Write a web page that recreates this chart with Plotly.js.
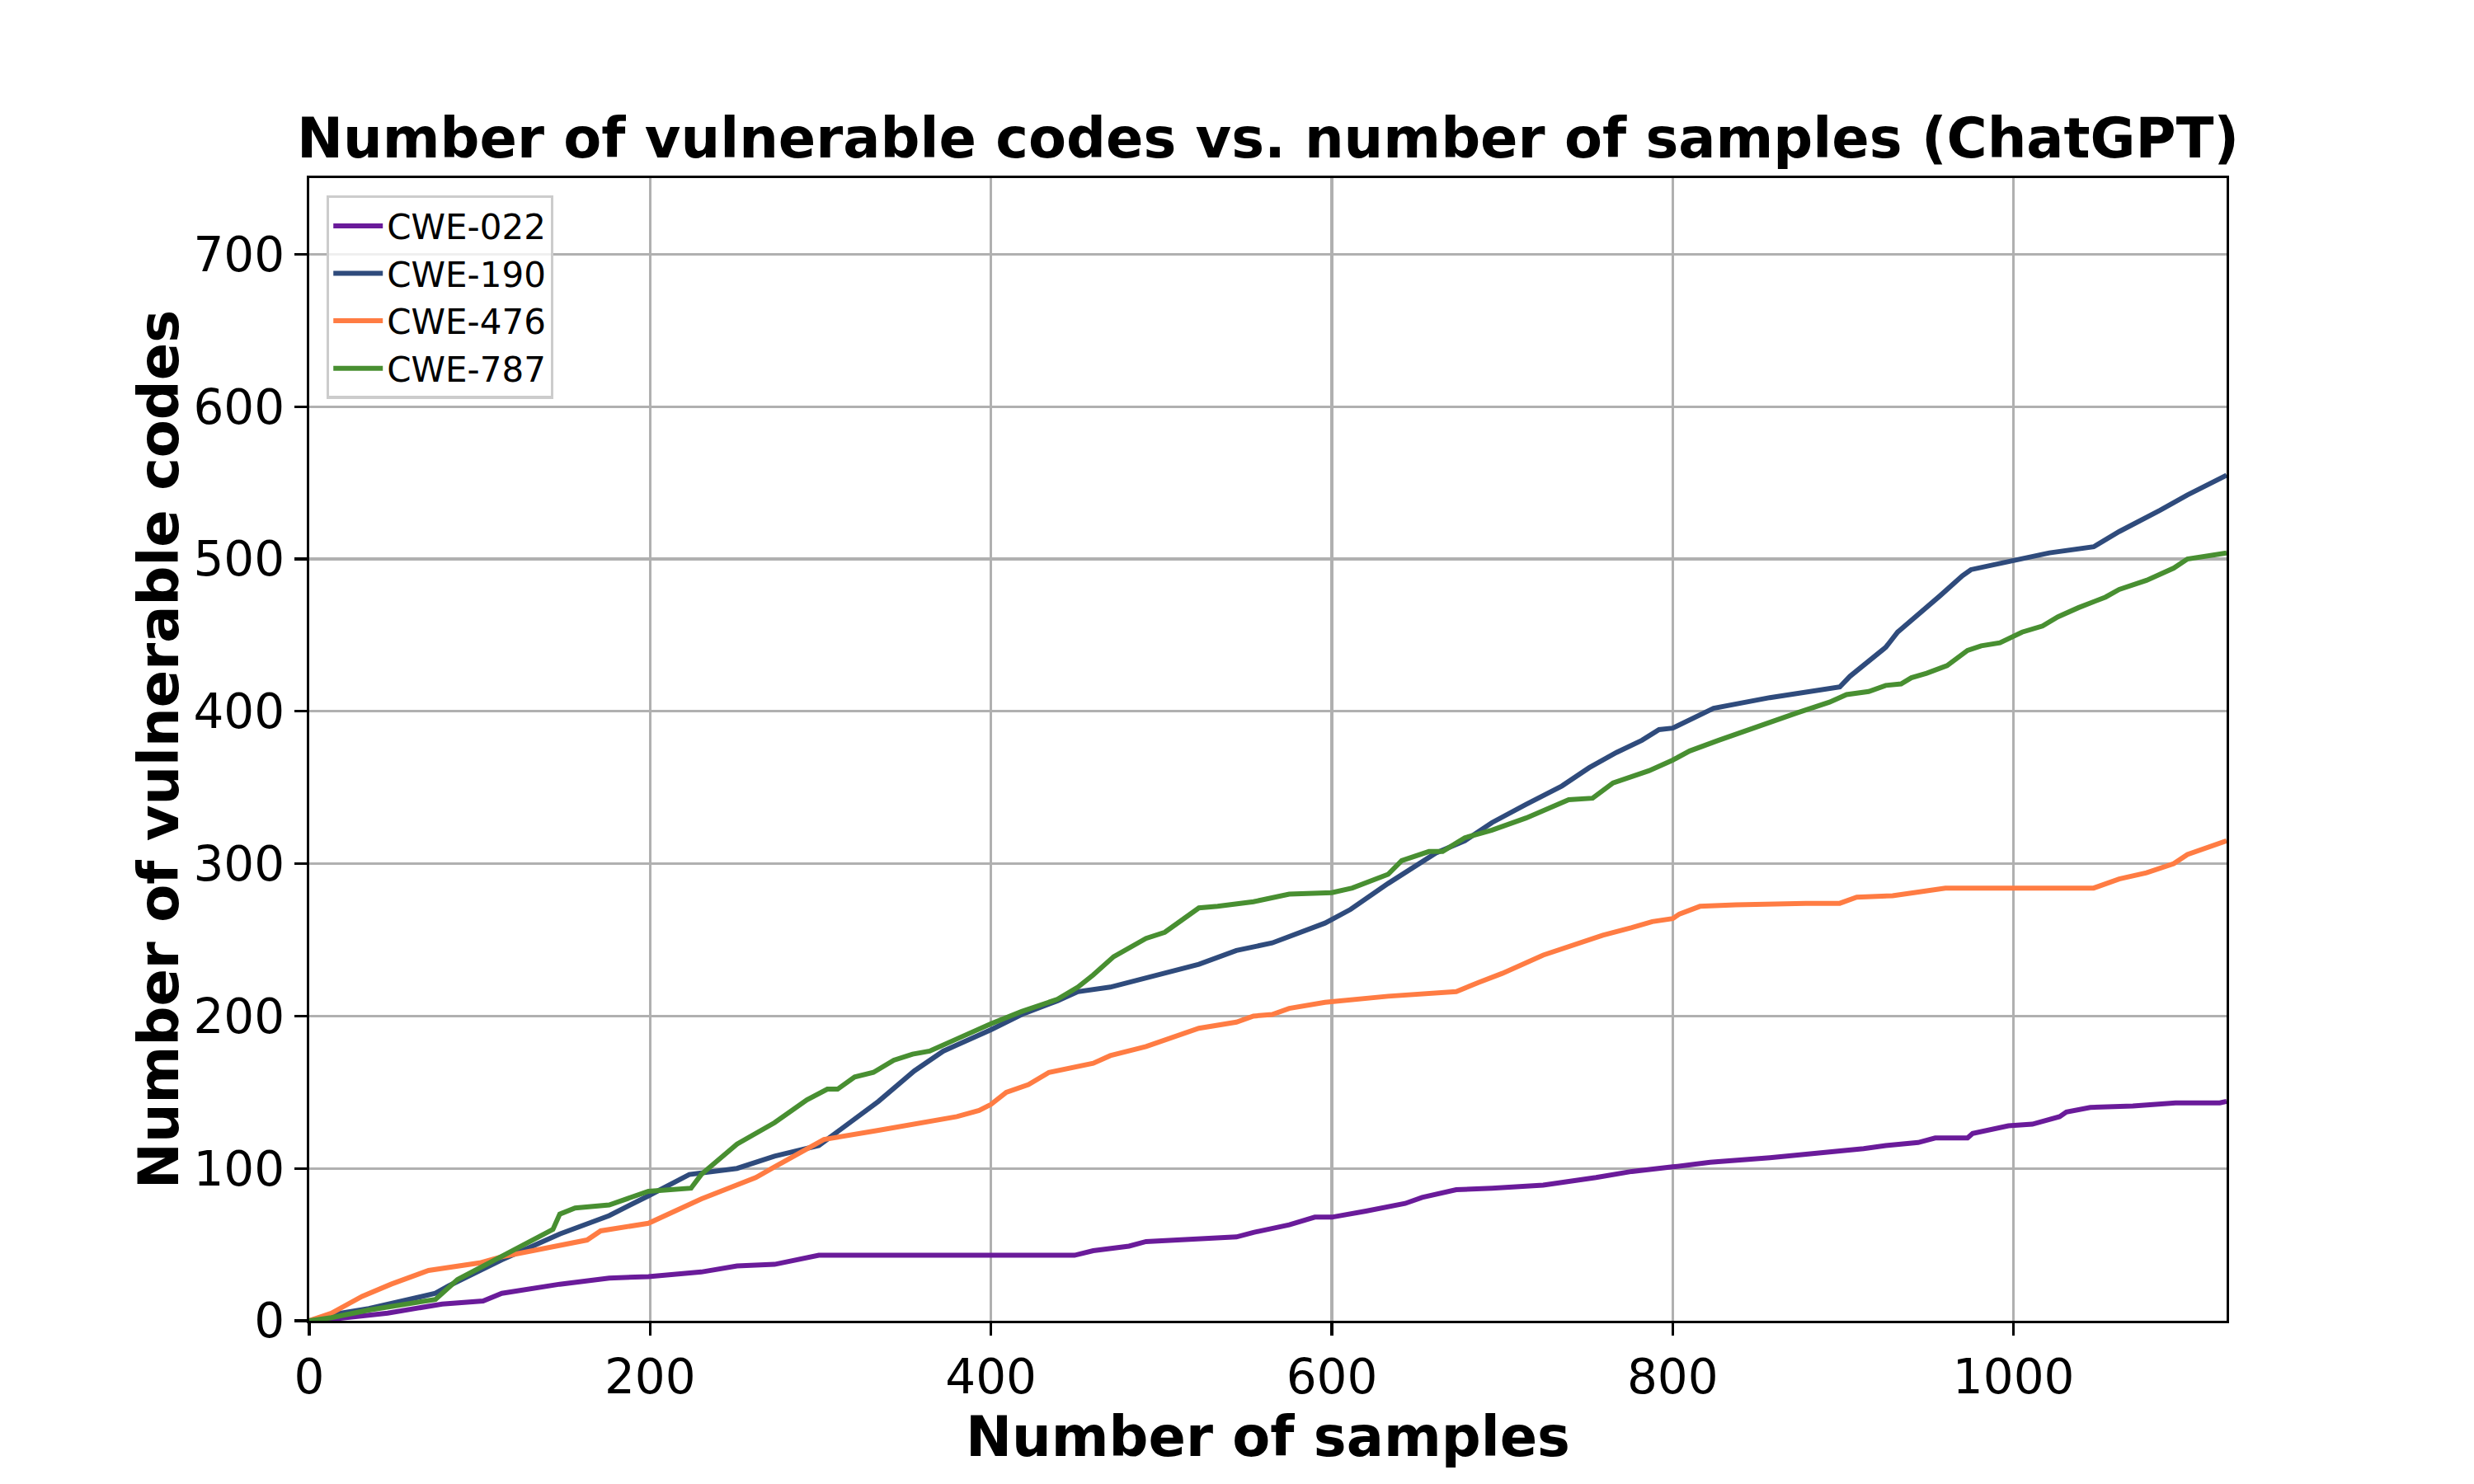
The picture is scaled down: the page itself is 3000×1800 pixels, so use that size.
<!DOCTYPE html>
<html>
<head>
<meta charset="utf-8">
<script src="https://cdn.plot.ly/plotly-3.0.1.min.js"></script>
<style>
  body { margin: 0; background: #fff; }
  #chart { width: 3000px; height: 1800px; }
</style>
</head>
<body>
<div id="chart"></div>
<script>
// cumulative counts, sample index -> count
var cwe022X = [0, 13, 46, 78, 102, 113, 147, 176, 199, 230, 251, 273, 299, 331, 449, 460, 481, 491, 544, 554, 575, 590, 600, 620, 643, 653, 673, 694, 724, 755, 776, 800, 822, 857, 888, 912, 925, 933, 944, 954, 973, 976, 986, 997, 1011, 1027, 1031, 1045, 1070, 1095, 1121, 1125];
var cwe022Y = [0, 1, 5, 11, 13, 18, 24, 28, 29, 32, 36, 37, 43, 43, 43, 46, 49, 52, 55, 58, 63, 68, 68, 72, 77, 81, 86, 87, 89, 94, 98, 101, 104, 107, 110, 113, 115, 116, 117, 120, 120, 123, 125, 128, 129, 134, 137, 140, 141, 143, 143, 144];

var cwe190X = [0, 13, 35, 57, 74, 82, 113, 147, 176, 199, 223, 251, 273, 299, 313, 334, 355, 372, 400, 418, 439, 451, 470, 502, 522, 544, 565, 596, 611, 633, 649, 661, 678, 694, 714, 735, 751, 767, 782, 792, 800, 824, 857, 898, 904, 913, 925, 932, 946, 957, 970, 975, 1000, 1021, 1047, 1062, 1086, 1102, 1125];
var cwe190Y = [0, 4, 8, 14, 18, 23, 40, 57, 69, 82, 96, 100, 108, 115, 127, 144, 164, 177, 191, 201, 210, 216, 219, 228, 234, 243, 248, 261, 270, 287, 298, 307, 315, 327, 339, 351, 363, 373, 381, 388, 389, 402, 409, 416, 423, 431, 442, 452, 465, 476, 489, 493, 499, 504, 508, 518, 532, 542, 555];

var cwe476X = [0, 13, 31, 48, 70, 100, 113, 147, 163, 171, 199, 230, 262, 273, 292, 302, 334, 365, 380, 393, 400, 409, 422, 434, 450, 460, 470, 491, 522, 544, 554, 565, 575, 596, 633, 673, 686, 700, 724, 747, 759, 776, 788, 800, 804, 816, 837, 878, 898, 908, 929, 960, 1047, 1062, 1078, 1094, 1102, 1125];
var cwe476Y = [0, 5, 16, 24, 33, 38, 42, 49, 53, 59, 64, 80, 94, 101, 113, 119, 125, 131, 134, 138, 142, 150, 155, 163, 167, 169, 174, 180, 192, 196, 200, 201, 205, 209, 213, 216, 222, 228, 240, 249, 253, 258, 262, 264, 267, 272, 273, 274, 274, 278, 279, 284, 284, 290, 294, 300, 306, 315];

var cwe787X = [0, 13, 35, 74, 87, 117, 143, 147, 156, 176, 199, 224, 230, 251, 273, 292, 304, 310, 320, 331, 343, 354, 364, 380, 400, 418, 439, 451, 460, 472, 491, 502, 514, 522, 533, 554, 575, 594, 600, 612, 633, 641, 657, 665, 678, 694, 714, 739, 753, 765, 786, 800, 810, 827, 847, 873, 892, 902, 915, 925, 934, 940, 949, 961, 973, 981, 992, 1005, 1017, 1026, 1038, 1054, 1062, 1078, 1094, 1102, 1125];
var cwe787Y = [0, 2, 7, 14, 27, 45, 60, 70, 74, 76, 85, 87, 96, 116, 130, 145, 152, 152, 160, 163, 171, 175, 177, 185, 195, 203, 211, 219, 227, 239, 251, 255, 265, 271, 272, 275, 280, 281, 281, 284, 293, 302, 308, 308, 317, 322, 330, 342, 343, 353, 361, 368, 374, 381, 389, 399, 406, 411, 413, 417, 418, 422, 425, 430, 440, 443, 445, 452, 456, 462, 468, 475, 480, 486, 494, 500, 504];

var names = ['CWE-022', 'CWE-190', 'CWE-476', 'CWE-787'];
var colors = ['#6a1b9a', '#2f4b7c', '#ff7c43', '#488f31'];
var xs = [cwe022X, cwe190X, cwe476X, cwe787X];
var ys = [cwe022Y, cwe190Y, cwe476Y, cwe787Y];

var data = names.map(function (n, i) {
    return {
        type: 'scatter',
        mode: 'lines',
        name: n,
        x: xs[i],
        y: ys[i],
        line: {color: colors[i], width: 6}
    };
});

var font = 'DejaVu Sans, sans-serif';
var axisCommon = {
    showline: true,
    mirror: true,
    linecolor: '#000',
    linewidth: 3.3,
    ticks: 'outside',
    ticklen: 15,
    tickwidth: 3.3,
    tickcolor: '#000',
    showgrid: true,
    gridcolor: '#b0b0b0',
    gridwidth: 3.3,
    zeroline: false,
    tickfont: {family: font, size: 58, color: '#000'}
};

var layout = {
    width: 3000,
    height: 1800,
    paper_bgcolor: '#fff',
    plot_bgcolor: '#fff',
    font: {family: font, color: '#000'},
    margin: {l: 375, r: 300, t: 216, b: 198},
    title: {
        text: 'Number of vulnerable codes vs. number of samples (ChatGPT)',
        font: {family: font, size: 67, weight: 'bold', color: '#000'},
        x: 0.5,
        xref: 'paper',
        y: 0.894,
        yref: 'container',
        yanchor: 'bottom'
    },
    xaxis: Object.assign({}, axisCommon, {
        range: [0, 1125],
        tick0: 0,
        dtick: 200,
        automargin: true,
        title: {
            text: 'Number of samples',
            font: {family: font, size: 67, weight: 'bold', color: '#000'},
            standoff: 8
        }
    }),
    yaxis: Object.assign({}, axisCommon, {
        range: [0, 750],
        tick0: 0,
        dtick: 100,
        title: {
            text: 'Number of vulnerable codes',
            font: {family: font, size: 67, weight: 'bold', color: '#000'}
        }
    }),
    legend: {
        x: 0.009,
        y: 0.985,
        xanchor: 'left',
        yanchor: 'top',
        bgcolor: 'rgba(255,255,255,0.8)',
        bordercolor: '#cccccc',
        borderwidth: 3.3,
        font: {family: font, size: 42, color: '#000'},
        itemwidth: 60
    },
    showlegend: true
};

Plotly.newPlot('chart', data, layout, {displayModeBar: false, staticPlot: true});
</script>
</body>
</html>
